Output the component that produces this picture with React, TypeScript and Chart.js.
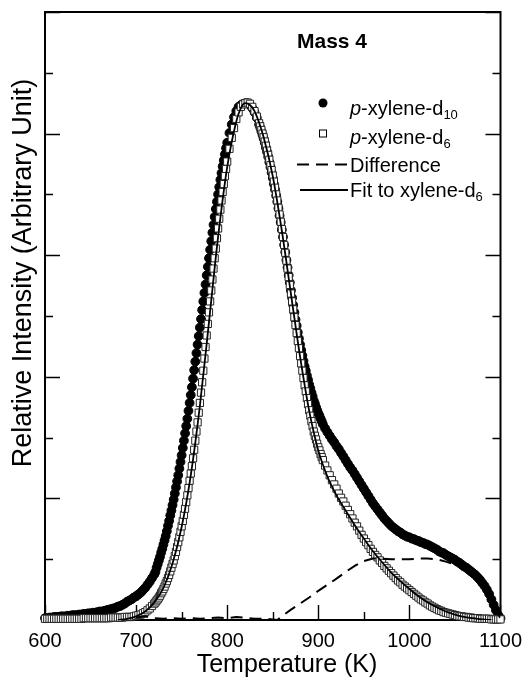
import React, { useEffect, useRef } from "react";
import { Chart, registerables } from "chart.js";

Chart.register(...registerables);

const FONT = "'Liberation Sans', Arial, Helvetica, sans-serif";

// p-xylene-d10 (filled circles): [temperature K, intensity]
const xyleneD10: [number, number][] = [
  [600, 0.03], [602.5, 0.03], [605, 0.04], [607.5, 0.04], [610, 0.05], [612.5, 0.05], [615, 0.05], [617.5, 0.06], [620, 0.06],
  [622.5, 0.06], [625, 0.07], [627.5, 0.07], [630, 0.08], [632.5, 0.08], [635, 0.08], [637.5, 0.09], [640, 0.09], [642.5, 0.1],
  [645, 0.1], [647.5, 0.11], [650, 0.11], [652.5, 0.12], [655, 0.12], [657.5, 0.13], [660, 0.14], [662.5, 0.14], [665, 0.15],
  [667.5, 0.16], [670, 0.17], [672.5, 0.18], [675, 0.19], [677.5, 0.2], [680, 0.22], [682.5, 0.23], [685, 0.25], [687.5, 0.27],
  [690, 0.3], [692.5, 0.32], [695, 0.34], [697.5, 0.37], [700, 0.39], [702.5, 0.42], [705, 0.45], [707.5, 0.49], [710, 0.53],
  [712.5, 0.58], [715, 0.63], [717.5, 0.69], [720, 0.75],
  [721.25, 0.79], [722.5, 0.86], [723.75, 0.92], [725, 0.98], [726.25, 1.04], [727.5, 1.11], [728.75, 1.17], [730, 1.24],
  [731.25, 1.31], [732.5, 1.38], [733.75, 1.46], [735, 1.55], [736.25, 1.63], [737.5, 1.72], [738.75, 1.8], [740, 1.89],
  [741.25, 1.98], [742.5, 2.08], [743.75, 2.18], [745, 2.28], [746.25, 2.38], [747.5, 2.49], [748.75, 2.6], [750, 2.71],
  [751.25, 2.83], [752.5, 2.95], [753.75, 3.07], [755, 3.19], [756.25, 3.31], [757.5, 3.44], [758.75, 3.57], [760, 3.7],
  [761.25, 3.83], [762.5, 3.97], [763.75, 4.11], [765, 4.25], [766.25, 4.39], [767.5, 4.53], [768.75, 4.67], [770, 4.81],
  [771.25, 4.95], [772.5, 5.1], [773.75, 5.24], [775, 5.38], [776.25, 5.52], [777.5, 5.67], [778.75, 5.81], [780, 5.95],
  [781.25, 6.09], [782.5, 6.23], [783.75, 6.37], [785, 6.5], [786.25, 6.63], [787.5, 6.76], [788.75, 6.88], [790, 7.0],
  [791.25, 7.12], [792.5, 7.24], [793.75, 7.35], [795, 7.46], [796.25, 7.56], [797.5, 7.66], [798.75, 7.76], [800, 7.85],
  [802.5, 8.01], [805, 8.15], [807.5, 8.27], [810, 8.37], [812.5, 8.44], [815, 8.47], [817.5, 8.49], [820, 8.5], [822.5, 8.5],
  [825, 8.47], [827.5, 8.42], [830, 8.35], [832.5, 8.26], [835, 8.15],
  [836.25, 8.1], [837.5, 8.04], [838.75, 7.98], [840, 7.92], [841.25, 7.85], [842.5, 7.77], [843.75, 7.7], [845, 7.62],
  [846.25, 7.53], [847.5, 7.45], [848.75, 7.36], [850, 7.27], [851.25, 7.17], [852.5, 7.08], [853.75, 6.98], [855, 6.88],
  [856.25, 6.77], [857.5, 6.65], [858.75, 6.54], [860, 6.42], [861.25, 6.3], [862.5, 6.17], [863.75, 6.05], [865, 5.92],
  [866.25, 5.8], [867.5, 5.67], [868.75, 5.55], [870, 5.42], [871.25, 5.3], [872.5, 5.18], [873.75, 5.06], [875, 4.94],
  [876.25, 4.84], [877.5, 4.73], [878.75, 4.63], [880, 4.53], [881.25, 4.44], [882.5, 4.35], [883.75, 4.26], [885, 4.17],
  [886.25, 4.1], [887.5, 4.02], [888.75, 3.95], [890, 3.87], [891.25, 3.81], [892.5, 3.74], [893.75, 3.68], [895, 3.61],
  [896.25, 3.56], [897.5, 3.5], [898.75, 3.45], [900, 3.4], [901.25, 3.36], [902.5, 3.31], [903.75, 3.27], [905, 3.22],
  [907.5, 3.15], [910, 3.09], [912.5, 3.03], [915, 2.97], [917.5, 2.92], [920, 2.86], [922.5, 2.81], [925, 2.75], [927.5, 2.69],
  [930, 2.63], [932.5, 2.57], [935, 2.51], [937.5, 2.46], [940, 2.4], [942.5, 2.34], [945, 2.28], [947.5, 2.22], [950, 2.16],
  [952.5, 2.1], [955, 2.04], [957.5, 1.98], [960, 1.92], [962.5, 1.87], [965, 1.82], [967.5, 1.77], [970, 1.72], [972.5, 1.67],
  [975, 1.63], [977.5, 1.59], [980, 1.55], [982.5, 1.52], [985, 1.49], [987.5, 1.46], [990, 1.44], [992.5, 1.41], [995, 1.39],
  [997.5, 1.37], [1000, 1.36], [1002.5, 1.34], [1005, 1.33], [1007.5, 1.31], [1010, 1.3], [1012.5, 1.28], [1015, 1.27],
  [1017.5, 1.25], [1020, 1.24], [1022.5, 1.22], [1025, 1.2], [1027.5, 1.18], [1030, 1.16], [1032.5, 1.13], [1035, 1.11],
  [1037.5, 1.1], [1040, 1.07], [1042.5, 1.05], [1045, 1.03], [1047.5, 1.01], [1050, 0.99], [1052.5, 0.96], [1055, 0.94],
  [1057.5, 0.91], [1060, 0.88], [1062.5, 0.86], [1065, 0.83], [1067.5, 0.8], [1070, 0.77], [1072.5, 0.74], [1075, 0.7],
  [1077.5, 0.66], [1080, 0.61], [1082.5, 0.56], [1085, 0.5], [1087.5, 0.43], [1090, 0.34], [1092.5, 0.25], [1095, 0.16],
  [1097.5, 0.08], [1100, 0.03],
];

// p-xylene-d6 (open squares): [temperature K, intensity]
const xyleneD6: [number, number][] = [
  [600, 0.02], [602.5, 0.02], [605, 0.02], [607.5, 0.02], [610, 0.02], [612.5, 0.02], [615, 0.02], [617.5, 0.02], [620, 0.02],
  [622.5, 0.02], [625, 0.02], [627.5, 0.02], [630, 0.02], [632.5, 0.02], [635, 0.02], [637.5, 0.02], [640, 0.02], [642.5, 0.03],
  [645, 0.03], [647.5, 0.03], [650, 0.03], [652.5, 0.03], [655, 0.03], [657.5, 0.03], [660, 0.03], [662.5, 0.03], [665, 0.03],
  [667.5, 0.03], [670, 0.03], [672.5, 0.04], [675, 0.04], [677.5, 0.04], [680, 0.04], [682.5, 0.04], [685, 0.04], [687.5, 0.05],
  [690, 0.05], [692.5, 0.05], [695, 0.05], [697.5, 0.06], [700, 0.07], [702.5, 0.08], [705, 0.09], [707.5, 0.11], [710, 0.13],
  [712.5, 0.16], [715, 0.19], [717.5, 0.23], [720, 0.27],
  [721.25, 0.29], [722.5, 0.32], [723.75, 0.34], [725, 0.37], [726.25, 0.4], [727.5, 0.44], [728.75, 0.47], [730, 0.51],
  [731.25, 0.55], [732.5, 0.6], [733.75, 0.64], [735, 0.69], [736.25, 0.74], [737.5, 0.8], [738.75, 0.86], [740, 0.92],
  [741.25, 0.98], [742.5, 1.05], [743.75, 1.12], [745, 1.2], [746.25, 1.28], [747.5, 1.36], [748.75, 1.45], [750, 1.54],
  [751.25, 1.63], [752.5, 1.73], [753.75, 1.83], [755, 1.94], [756.25, 2.05], [757.5, 2.17], [758.75, 2.29], [760, 2.41],
  [761.25, 2.53], [762.5, 2.66], [763.75, 2.8], [765, 2.95], [766.25, 3.1], [767.5, 3.25], [768.75, 3.41], [770, 3.57],
  [771.25, 3.74], [772.5, 3.91], [773.75, 4.1], [775, 4.3], [776.25, 4.49], [777.5, 4.68], [778.75, 4.87], [780, 5.06],
  [781.25, 5.24], [782.5, 5.42], [783.75, 5.6], [785, 5.78], [786.25, 5.95], [787.5, 6.11], [788.75, 6.28], [790, 6.44],
  [791.25, 6.6], [792.5, 6.75], [793.75, 6.9], [795, 7.04], [796.25, 7.17], [797.5, 7.3], [798.75, 7.42], [800, 7.54],
  [802.5, 7.75], [805, 7.93], [807.5, 8.09], [810, 8.24], [812.5, 8.35], [815, 8.44], [817.5, 8.48], [820, 8.5], [822.5, 8.51],
  [825, 8.49], [827.5, 8.44], [830, 8.37], [832.5, 8.28], [835, 8.17],
  [836.25, 8.12], [837.5, 8.06], [838.75, 8.0], [840, 7.94], [841.25, 7.87], [842.5, 7.8], [843.75, 7.72], [845, 7.65],
  [846.25, 7.57], [847.5, 7.48], [848.75, 7.4], [850, 7.31], [851.25, 7.21], [852.5, 7.11], [853.75, 7.0], [855, 6.9],
  [856.25, 6.78], [857.5, 6.67], [858.75, 6.55], [860, 6.43], [861.25, 6.3], [862.5, 6.17], [863.75, 6.04], [865, 5.91],
  [866.25, 5.78], [867.5, 5.64], [868.75, 5.51], [870, 5.37], [871.25, 5.24], [872.5, 5.11], [873.75, 4.98], [875, 4.85],
  [876.25, 4.72], [877.5, 4.59], [878.75, 4.47], [880, 4.34], [881.25, 4.22], [882.5, 4.1], [883.75, 3.98], [885, 3.86],
  [886.25, 3.76], [887.5, 3.65], [888.75, 3.55], [890, 3.45], [891.25, 3.36], [892.5, 3.27], [893.75, 3.19], [895, 3.1],
  [896.25, 3.03], [897.5, 2.97], [898.75, 2.9], [900, 2.84], [901.25, 2.79], [902.5, 2.73], [903.75, 2.68], [905, 2.63],
  [907.5, 2.54], [910, 2.46], [912.5, 2.38], [915, 2.3], [917.5, 2.23], [920, 2.16], [922.5, 2.08], [925, 2.01], [927.5, 1.95],
  [930, 1.88], [932.5, 1.81], [935, 1.74], [937.5, 1.67], [940, 1.6], [942.5, 1.54], [945, 1.47], [947.5, 1.4], [950, 1.34],
  [952.5, 1.28], [955, 1.23], [957.5, 1.17], [960, 1.12], [962.5, 1.07], [965, 1.03], [967.5, 0.98], [970, 0.94], [972.5, 0.89],
  [975, 0.85], [977.5, 0.81], [980, 0.77], [982.5, 0.73], [985, 0.69], [987.5, 0.65], [990, 0.62], [992.5, 0.58], [995, 0.55],
  [997.5, 0.52], [1000, 0.49], [1002.5, 0.46], [1005, 0.43], [1007.5, 0.4], [1010, 0.37], [1012.5, 0.34], [1015, 0.32],
  [1017.5, 0.29], [1020, 0.27], [1022.5, 0.24], [1025, 0.22], [1027.5, 0.2], [1030, 0.18], [1032.5, 0.16], [1035, 0.15],
  [1037.5, 0.13], [1040, 0.12], [1042.5, 0.11], [1045, 0.1], [1047.5, 0.09], [1050, 0.08], [1052.5, 0.07], [1055, 0.06],
  [1057.5, 0.06], [1060, 0.05], [1062.5, 0.05], [1065, 0.04], [1067.5, 0.04], [1070, 0.03], [1072.5, 0.03], [1075, 0.03],
  [1077.5, 0.02], [1080, 0.02], [1082.5, 0.02], [1085, 0.02], [1087.5, 0.02], [1090, 0.01], [1092.5, 0.01], [1095, 0.01],
  [1097.5, 0.01], [1100, 0.01],
];

// Fit to xylene-d6 (solid line)
const fitToD6: [number, number][] = [
  [680, 0.0], [690, 0.02], [700, 0.06], [710, 0.14], [720, 0.29], [730, 0.53], [740, 0.93], [750, 1.53], [760, 2.38],
  [770, 3.52], [780, 4.9], [790, 6.3], [800, 7.45], [810, 8.2], [815, 8.42], [820, 8.5], [825, 8.47], [830, 8.37], [840, 7.94],
  [850, 7.3], [860, 6.4], [870, 5.36], [880, 4.33], [890, 3.44], [900, 2.79], [910, 2.36], [920, 2.05], [930, 1.8],
  [940, 1.56], [950, 1.34], [960, 1.13], [970, 0.95], [980, 0.78], [990, 0.64], [1000, 0.51], [1010, 0.39], [1020, 0.29],
  [1030, 0.21], [1040, 0.14], [1050, 0.09], [1060, 0.05], [1070, 0.03], [1080, 0.01], [1090, 0.0],
];

// Difference (dashed line)
const difference: [number, number][] = [
  [700, 0.04], [710, 0.06], [720, 0.03], [730, 0.02], [740, 0.03], [750, 0.02], [760, 0.03], [770, 0.02], [780, 0.03],
  [790, 0.04], [800, 0.03], [810, 0.05], [820, 0.04], [830, 0.02], [840, 0.02], [850, 0.01], [855, 0.0], [860, 0.06],
  [870, 0.17], [880, 0.27], [890, 0.37], [900, 0.48], [910, 0.58], [920, 0.68], [930, 0.79], [940, 0.89], [950, 0.97],
  [960, 1.01], [970, 1.01], [980, 1.0], [990, 1.0], [1000, 1.0], [1010, 1.01], [1020, 1.01], [1030, 1.0], [1040, 0.96],
  [1050, 0.91], [1060, 0.83], [1070, 0.74], [1080, 0.59], [1090, 0.33], [1100, 0.02],
];

const xMajorTicks = [600, 700, 800, 900, 1000, 1100];
const xMinorTicks = [650, 750, 850, 950, 1050];
const yMajorTicks = [0, 2, 4, 6, 8, 10];
const yMinorTicks = [1, 3, 5, 7, 9];

const panelTitle = "Mass 4";
const xTitle = "Temperature (K)";
const yTitle = "Relative Intensity (Arbitrary Unit)";

const framePlugin = {
  id: "frameTicks",
  beforeDatasetsDraw(chart: any) {
    const { ctx, chartArea: a, scales } = chart;
    const xs = scales.x;
    const ys = scales.y;
    ctx.save();
    ctx.strokeStyle = "#000";
    ctx.lineWidth = 1.4;
    ctx.beginPath();
    xMajorTicks.forEach((v) => {
      const px = Math.round(xs.getPixelForValue(v)) + 0.5;
      ctx.moveTo(px, a.bottom);
      ctx.lineTo(px, a.bottom - 15);
    });
    xMinorTicks.forEach((v) => {
      const px = Math.round(xs.getPixelForValue(v)) + 0.5;
      ctx.moveTo(px, a.bottom);
      ctx.lineTo(px, a.bottom - 8);
    });
    yMajorTicks.forEach((v) => {
      const py = Math.round(ys.getPixelForValue(v)) + 0.5;
      ctx.moveTo(a.left, py);
      ctx.lineTo(a.left + 15, py);
      ctx.moveTo(a.right, py);
      ctx.lineTo(a.right - 15, py);
    });
    yMinorTicks.forEach((v) => {
      const py = Math.round(ys.getPixelForValue(v)) + 0.5;
      ctx.moveTo(a.left, py);
      ctx.lineTo(a.left + 8, py);
      ctx.moveTo(a.right, py);
      ctx.lineTo(a.right - 8, py);
    });
    ctx.stroke();
    ctx.lineWidth = 2;
    ctx.strokeRect(a.left, a.top, a.right - a.left, a.bottom - a.top);

    ctx.fillStyle = "#000";
    ctx.textBaseline = "alphabetic";
    ctx.textAlign = "center";
    ctx.font = `25px ${FONT}`;
    ctx.fillText(xTitle, 287, 672);
    ctx.save();
    ctx.translate(31, 273);
    ctx.rotate(-Math.PI / 2);
    ctx.font = `27px ${FONT}`;
    ctx.fillText(yTitle, 0, 0);
    ctx.restore();
    ctx.restore();
  },
};

const legendPlugin = {
  id: "customLegend",
  afterDraw(chart: any) {
    const { ctx } = chart;
    ctx.save();
    ctx.fillStyle = "#000";
    ctx.strokeStyle = "#000";
    ctx.textBaseline = "alphabetic";

    ctx.font = `bold 21px ${FONT}`;
    ctx.textAlign = "center";
    ctx.fillText(panelTitle, 332, 48);
    ctx.textAlign = "left";

    const textX = 350;
    const main = `20px ${FONT}`;
    const sub = `13px ${FONT}`;

    const drawLabel = (parts: { t: string; f: string; dy?: number }[], y: number) => {
      let x = textX;
      parts.forEach((p) => {
        ctx.font = p.f;
        ctx.fillText(p.t, x, y + (p.dy || 0));
        x += ctx.measureText(p.t).width;
      });
    };

    ctx.beginPath();
    ctx.arc(323, 103, 4.5, 0, Math.PI * 2);
    ctx.fill();
    drawLabel([
      { t: "p", f: `italic 20px ${FONT}` },
      { t: "-xylene-d", f: main },
      { t: "10", f: sub, dy: 4 },
    ], 115);

    ctx.fillStyle = "#fff";
    ctx.fillRect(319.5, 130, 7, 7);
    ctx.lineWidth = 1;
    ctx.strokeRect(319.5, 130, 7, 7);
    ctx.fillStyle = "#000";
    drawLabel([
      { t: "p", f: `italic 20px ${FONT}` },
      { t: "-xylene-d", f: main },
      { t: "6", f: sub, dy: 4 },
    ], 144);

    ctx.lineWidth = 2;
    ctx.setLineDash([12, 7]);
    ctx.beginPath();
    ctx.moveTo(297, 164.5);
    ctx.lineTo(349, 164.5);
    ctx.stroke();
    ctx.setLineDash([]);
    drawLabel([{ t: "Difference", f: main }], 172);

    ctx.beginPath();
    ctx.moveTo(300, 190);
    ctx.lineTo(348, 190);
    ctx.stroke();
    drawLabel([
      { t: "Fit to xylene-d", f: main },
      { t: "6", f: sub, dy: 4 },
    ], 197);

    ctx.restore();
  },
};

export default function App() {
  const canvasRef = useRef<HTMLCanvasElement | null>(null);

  useEffect(() => {
    const canvas = canvasRef.current;
    if (!canvas) return;
    const toPoints = (arr: [number, number][]) => arr.map(([x, y]) => ({ x, y }));

    const chart = new Chart(canvas, {
      type: "line",
      data: {
        datasets: [
          {
            label: "Fit to xylene-d6",
            data: toPoints(fitToD6),
            borderColor: "#000",
            borderWidth: 1.8,
            pointRadius: 0,
            cubicInterpolationMode: "monotone",
            fill: false,
            order: 0,
          } as any,
          {
            label: "Difference",
            data: toPoints(difference),
            borderColor: "#000",
            borderWidth: 2,
            borderDash: [12, 7],
            pointRadius: 0,
            tension: 0,
            fill: false,
            order: 1,
          },
          {
            label: "p-xylene-d6",
            data: toPoints(xyleneD6),
            showLine: false,
            pointStyle: "rect",
            pointRadius: 5.1,
            pointBackgroundColor: "#fff",
            pointBorderColor: "#222",
            pointBorderWidth: 1,
            clip: false,
            order: 2,
          } as any,
          {
            label: "p-xylene-d10",
            data: toPoints(xyleneD10),
            showLine: false,
            pointStyle: "circle",
            pointRadius: 4.4,
            pointBackgroundColor: "#000",
            pointBorderColor: "#000",
            pointBorderWidth: 1,
            clip: false,
            order: 3,
          } as any,
        ],
      },
      options: {
        responsive: false,
        animation: false,
        events: [],
        devicePixelRatio: 1,
        layout: { padding: { top: 12, right: 27, left: 0, bottom: 0 } },
        plugins: {
          legend: { display: false },
          tooltip: { enabled: false },
          title: { display: false },
        },
        scales: {
          x: {
            type: "linear",
            min: 600,
            max: 1100,
            afterFit: (s: any) => {
              s.height = 63;
            },
            ticks: {
              stepSize: 100,
              color: "#000",
              font: { family: FONT, size: 20 },
              padding: 9,
              autoSkip: false,
              maxRotation: 0,
              callback: (v: any) => String(v),
            },
            grid: { display: false, drawTicks: false },
            border: { display: false },
            title: { display: false, text: xTitle },
          },
          y: {
            type: "linear",
            min: 0,
            max: 10,
            afterFit: (s: any) => {
              s.width = 45;
            },
            ticks: { display: false, stepSize: 1 },
            grid: { display: false, drawTicks: false },
            border: { display: false },
            title: { display: false, text: yTitle },
          },
        },
      } as any,
      plugins: [framePlugin, legendPlugin],
    });

    return () => {
      chart.destroy();
    };
  }, []);

  return (
    <div style={{ position: "fixed", left: 0, top: 0, width: 531, height: 683, background: "#fff" }}>
      <canvas ref={canvasRef} width={531} height={683} style={{ display: "block", width: 531, height: 683 }} />
    </div>
  );
}
